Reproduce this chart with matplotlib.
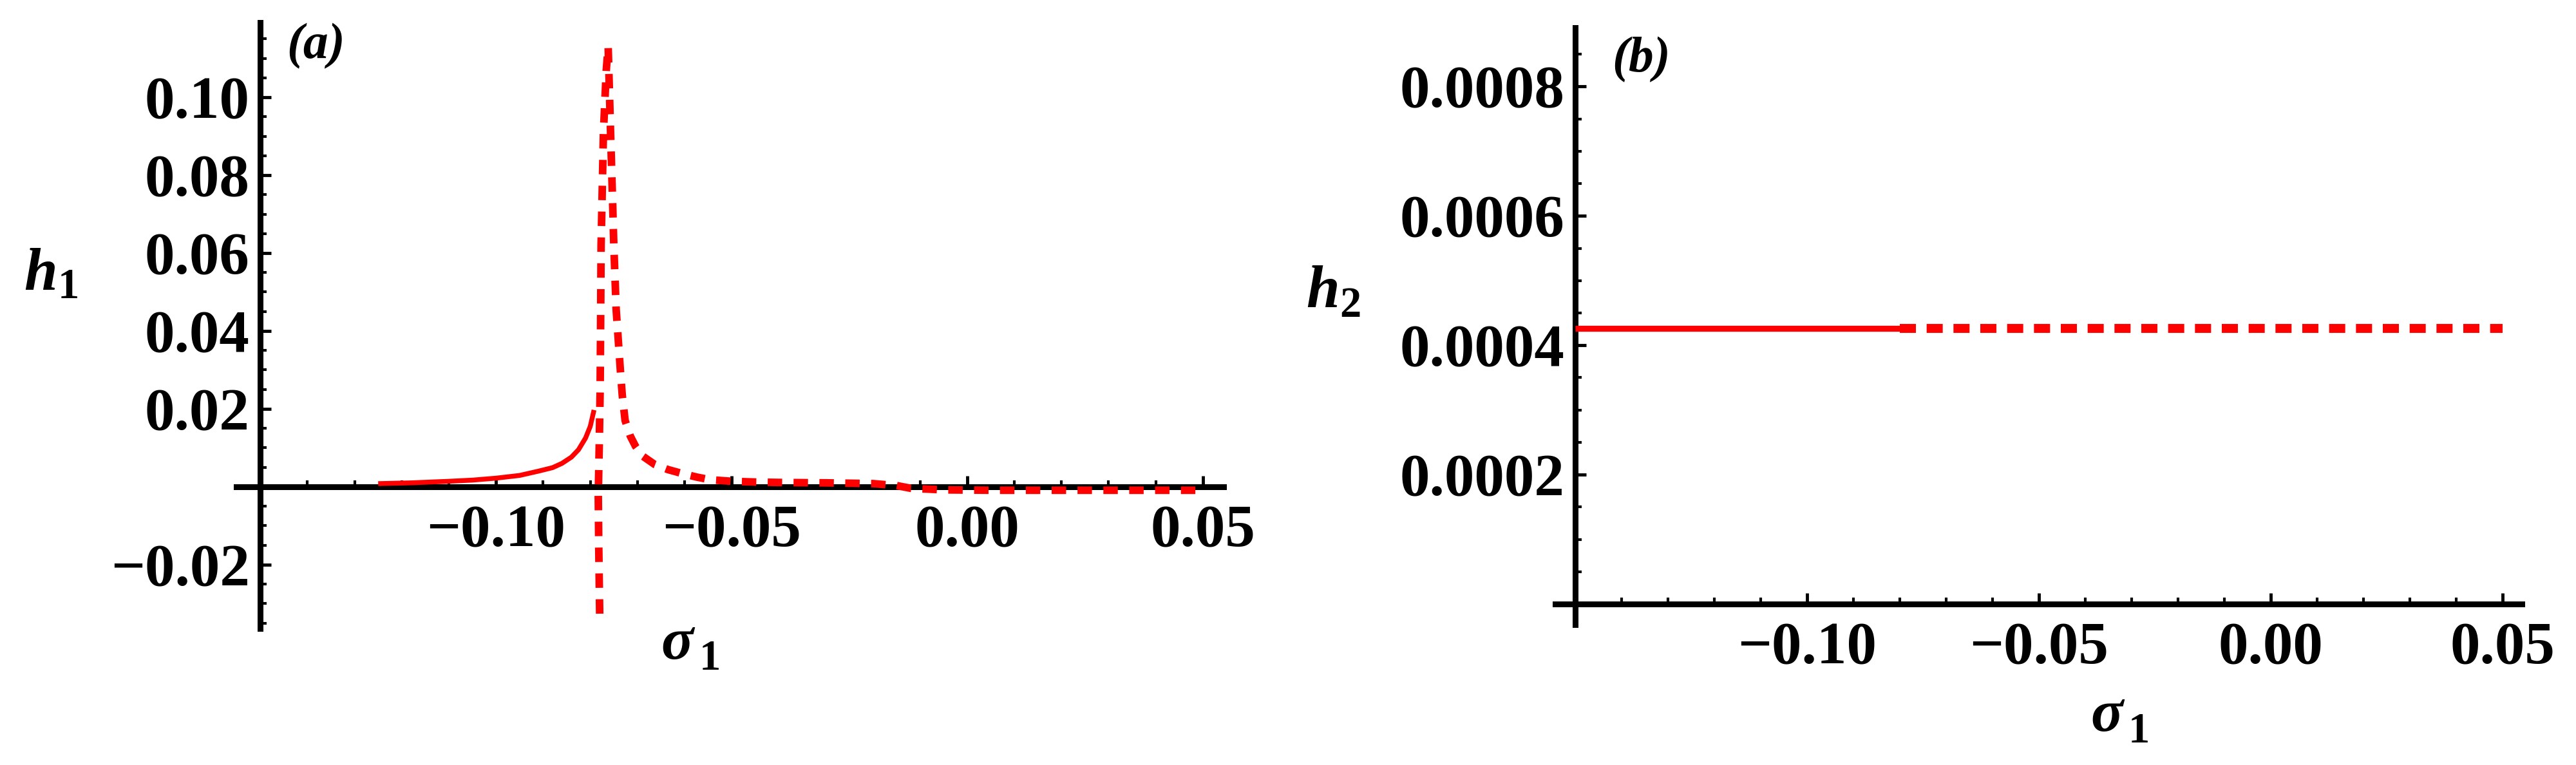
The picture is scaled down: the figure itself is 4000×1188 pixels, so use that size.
import numpy as np
import matplotlib
matplotlib.use("Agg")
import matplotlib.pyplot as plt

# panel (a): h1 against sigma1, stable (solid) and unstable (dashed) branches
sigma_stable = [-0.125, -0.118, -0.110, -0.105, -0.100, -0.095, -0.091, -0.088,
                -0.086, -0.084, -0.0825, -0.081, -0.080, -0.0792]
h1_stable = [0.0008, 0.0010, 0.0014, 0.0017, 0.0022, 0.0029, 0.0040, 0.0049,
             0.0060, 0.0076, 0.0095, 0.0125, 0.0155, 0.0197]

sigma_unstable = [-0.0780, -0.0782, -0.0783, -0.0781, -0.0779, -0.0778, -0.0777, -0.0772,
                  -0.0766, -0.0762, -0.0757, -0.0753, -0.0750, -0.0745, -0.0736, -0.0732,
                  -0.0726, -0.0715, -0.0704, -0.0688, -0.0663, -0.0635, -0.0608, -0.0575,
                  -0.0546, -0.050, -0.045, -0.040, -0.030, -0.020, -0.015, -0.012,
                  -0.005, 0.005, 0.020, 0.035, 0.050]
h1_unstable = [-0.0326, -0.015, -0.002, 0.010, 0.025, 0.042, 0.062, 0.091,
               0.107, 0.113, 0.0914, 0.075, 0.062, 0.0455, 0.0297, 0.0234,
               0.0170, 0.0130, 0.0104, 0.0078, 0.0057, 0.0044, 0.0035, 0.0025,
               0.0018, 0.0014, 0.0012, 0.0011, 0.0010, 0.0008, 0.0003, -0.0004,
               -0.0008, -0.0009, -0.0009, -0.0009, -0.0009]

# panel (b): h2 is flat
sigma_h2_stable = [-0.150, -0.080]
h2_stable = [0.000426, 0.000426]
sigma_h2_unstable = [-0.080, 0.050]
h2_unstable = [0.000426, 0.000426]

x_ticks = [-0.10, -0.05, 0.00, 0.05]
x_tick_labels = ["\u22120.10", "\u22120.05", "0.00", "0.05"]
h1_ticks = [-0.02, 0.02, 0.04, 0.06, 0.08, 0.10]
h1_tick_labels = ["\u22120.02", "0.02", "0.04", "0.06", "0.08", "0.10"]
h2_ticks = [0.0002, 0.0004, 0.0006, 0.0008]
h2_tick_labels = ["0.0002", "0.0004", "0.0006", "0.0008"]

W, H = 4000, 1188
SERIF = "Liberation Serif"
TICK_FS = 67
RED = "#ff0000"

fig = plt.figure(figsize=(W / 100, H / 100), dpi=100)


def px(x, y):
    return x / W, 1 - y / H


def style_axes(ax, xlim, ylim, yticks, ylabels, yminor):
    ax.set_xlim(*xlim)
    ax.set_ylim(*ylim)
    for s in ("top", "right"):
        ax.spines[s].set_visible(False)
    ax.spines["left"].set_position(("data", -0.15))
    ax.spines["bottom"].set_position(("data", 0))
    for s in ("left", "bottom"):
        ax.spines[s].set_linewidth(6.5)
        ax.spines[s].set_zorder(2)
    ax.set_xticks(x_ticks)
    ax.set_xticklabels(x_tick_labels)
    ax.set_xticks(np.round(np.arange(-0.15, 0.0501, 0.01), 3), minor=True)
    ax.set_yticks(yticks)
    ax.set_yticklabels(ylabels)
    ax.set_yticks(yminor, minor=True)
    ax.tick_params(which="major", direction="in", length=12, width=3.5, color="black")
    ax.tick_params(which="minor", direction="in", length=7, width=3, color="black")
    ax.tick_params(axis="x", which="major", pad=20)
    ax.tick_params(axis="y", which="major", pad=12)
    for lab in ax.get_xticklabels() + ax.get_yticklabels():
        lab.set_fontfamily(SERIF)
        lab.set_fontweight("bold")
        lab.set_fontsize(TICK_FS)
    ax.patch.set_alpha(0)


def sub_label(main, sub, xy_main, xy_sub, size=67, subsize=48):
    fig.text(*px(*xy_main), main, ha="center", va="baseline", family=SERIF,
             style="italic", weight="bold", fontsize=size)
    fig.text(*px(*xy_sub), sub, ha="left", va="baseline", family=SERIF,
             weight="bold", fontsize=subsize)


# ---- panel (a)
ax1 = fig.add_axes([367 / W, 1 - 976 / H, 1533 / W, 941 / H])
style_axes(ax1, (-0.1551, 0.0544), (-0.0364, 0.1192), h1_ticks, h1_tick_labels,
           np.round(np.arange(-0.035, 0.1151, 0.005), 3))
ax1.plot(sigma_stable, h1_stable, color=RED, lw=5.4, zorder=3, solid_capstyle="butt")
ax1.plot(sigma_unstable, h1_unstable, color=RED, lw=8.5, zorder=3,
         dashes=(1.9, 1.5), dash_capstyle="butt")

# ---- panel (b)
ax2 = fig.add_axes([2415 / W, 1 - 970 / H, 1501 / W, 927 / H])
style_axes(ax2, (-0.1543, 0.0542), (-0.0000318, 0.000891), h2_ticks, h2_tick_labels,
           np.round(np.arange(0.00005, 0.000851, 0.00005), 6))
ax2.plot(sigma_h2_stable, h2_stable, color=RED, lw=6.7, zorder=3, solid_capstyle="butt")
ax2.plot(sigma_h2_unstable, h2_unstable, color=RED, lw=10, zorder=3,
         dashes=(1.8, 1.2), dash_capstyle="butt")

# axis labels and panel tags
sub_label("h", "1", (63, 450), (90, 463))
sub_label("h", "2", (2054, 477), (2080, 492))
sub_label("\u03c3", "1", (1051, 1023), (1086, 1040))
sub_label("\u03c3", "1", (3271, 1135), (3305, 1153))
fig.text(*px(490, 72), "(a)", ha="center", va="center", family=SERIF,
         style="italic", weight="bold", fontsize=56)
fig.text(*px(2548, 93), "(b)", ha="center", va="center", family=SERIF,
         style="italic", weight="bold", fontsize=56)

fig.savefig("out.png", dpi=100, facecolor="white")
